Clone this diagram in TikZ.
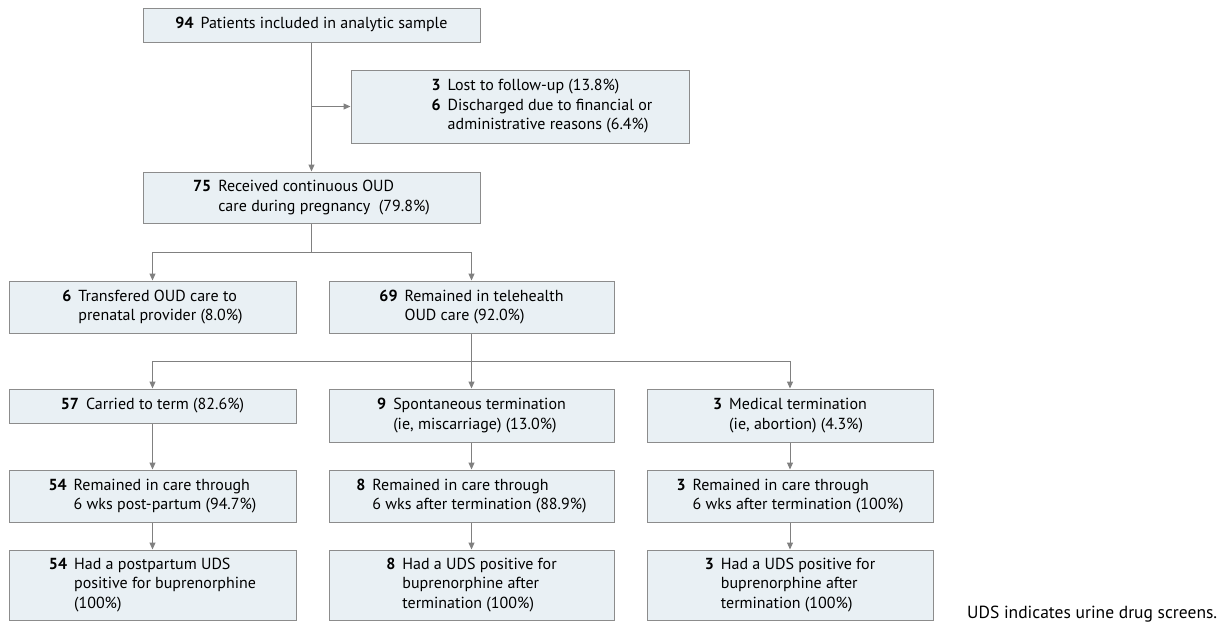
\documentclass[tikz,border=0pt]{standalone}
\usepackage{fontspec}
\setmainfont{PT Sans}
\usetikzlibrary{arrows.meta}
\definecolor{boxfill}{HTML}{E9F0F4}
\definecolor{boxdraw}{HTML}{8C8C8C}
\definecolor{linec}{HTML}{808080}
\newcommand\nt[1]{\begin{tabular}{@{}r@{\hspace{7pt}}l@{}}#1\end{tabular}}
\tikzset{
  bx/.style={draw=boxdraw, fill=boxfill, line width=1pt, inner sep=0pt, align=center,
    font=\fontsize{16}{19.5}\selectfont},
  arr/.style={draw=linec, line width=1pt, -{Triangle[length=7pt,width=6pt]}},
  ln/.style={draw=linec, line width=1pt},
}
\begin{document}
\begin{tikzpicture}[x=1pt,y=-1pt]
\useasboundingbox (0,0) rectangle (1223,621);
\node[bx, minimum width=337pt, minimum height=34pt] (b1) at (311.5,25) {\nt{\textbf{94} & Patients included in analytic sample}};
\node[bx, minimum width=338pt, minimum height=73pt] (side) at (520,106.5) {\hspace*{44pt}\nt{\textbf{3} & Lost to follow-up (13.8\%)\\ \textbf{6} & Discharged due to financial or\\ & administrative reasons (6.4\%)}};
\node[bx, minimum width=337pt, minimum height=51pt] (b75) at (311.5,197.5) {\nt{\textbf{75} & Received continuous OUD\\ & care during pregnancy\ \ (79.8\%)}};
\node[bx, minimum width=287pt, minimum height=52pt] (b6) at (152.5,307) {\nt{\textbf{6} & Transfered OUD care to\\ & prenatal provider (8.0\%)}};
\node[bx, minimum width=285pt, minimum height=52pt] (b69) at (471.5,307) {\nt{\textbf{69} & Remained in telehealth\\ & OUD care (92.0\%)}};
\node[bx, minimum width=287pt, minimum height=34pt] (b57) at (152.5,406) {\nt{\textbf{57} & Carried to term (82.6\%)}};
\node[bx, minimum width=285pt, minimum height=53pt] (b9) at (471.5,415.5) {\nt{\textbf{9} & Spontaneous termination\\ & (ie, miscarriage) (13.0\%)}};
\node[bx, minimum width=286pt, minimum height=53pt] (b3) at (790,415.5) {\nt{\textbf{3} & Medical termination\\ & (ie, abortion) (4.3\%)}};
\node[bx, minimum width=287pt, minimum height=52pt] (r54) at (152.5,496) {\nt{\textbf{54} & Remained in care through\\ & 6 wks post-partum (94.7\%)}};
\node[bx, minimum width=285pt, minimum height=52pt] (r8) at (471.5,496) {\nt{\textbf{8} & Remained in care through\\ & 6 wks after termination (88.9\%)}};
\node[bx, minimum width=286pt, minimum height=52pt] (r3) at (790,496) {\nt{\textbf{3} & Remained in care through\\ & 6 wks after termination (100\%)}};
\node[bx, minimum width=287pt, minimum height=70pt] (u54) at (152.5,585) {\nt{\textbf{54} & Had a postpartum UDS\\ & positive for buprenorphine\\ & (100\%)}};
\node[bx, minimum width=285pt, minimum height=70pt] (u8) at (471.5,585) {\nt{\textbf{8} & Had a UDS positive for\\ & buprenorphine after\\ & termination (100\%)}};
\node[bx, minimum width=286pt, minimum height=70pt] (u3) at (790,585) {\nt{\textbf{3} & Had a UDS positive for\\ & buprenorphine after\\ & termination (100\%)}};
\node[anchor=base west, font=\fontsize{17.5}{20}\selectfont, inner sep=0pt] (note) at (967,618) {UDS indicates urine drug screens.};
% connectors
\coordinate (j1) at (311.5,106.5);
\coordinate (j2) at (311.5,252);
\coordinate (j3) at (471.5,361);
\draw[arr] (b1) -- (b75);
\draw[arr] (j1) -- (j1 -| side.west);
\draw[ln] (b75.south) -- (j2);
\draw[arr] (j2) -| (b6.north);
\draw[arr] (j2) -| (b69.north);
\draw[ln] (b69.south) -- (j3);
\draw[arr] (j3) -| (b57.north);
\draw[arr] (j3) -- (b9.north);
\draw[arr] (j3) -| (b3.north);
\draw[arr] (b57) -- (r54);
\draw[arr] (b9) -- (r8);
\draw[arr] (b3) -- (r3);
\draw[arr] (r54) -- (u54);
\draw[arr] (r8) -- (u8);
\draw[arr] (r3) -- (u3);
\end{tikzpicture}
\end{document}
